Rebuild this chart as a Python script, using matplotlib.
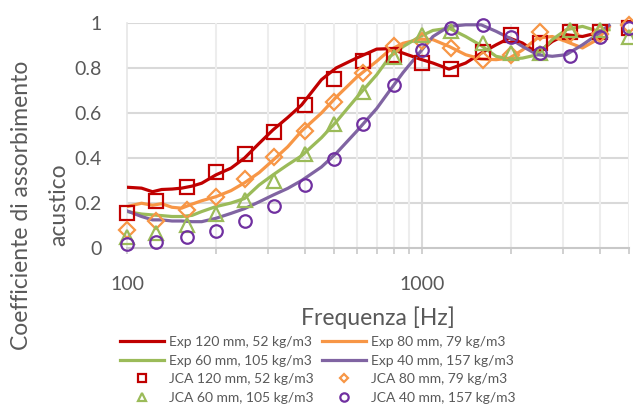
import matplotlib
matplotlib.use("Agg")
import matplotlib.pyplot as plt
from matplotlib.lines import Line2D
from matplotlib.ticker import FixedLocator, NullFormatter, FixedFormatter

plt.rcParams['font.family'] = ['Lato', 'DejaVu Sans']

# --- data ---
jca_freq = [100, 125, 160, 200, 250, 315, 400, 500, 630, 800, 1000, 1250, 1600, 2000, 2500, 3150, 4000, 5000]
jca_120 = [0.157, 0.209, 0.27, 0.338, 0.418, 0.514, 0.634, 0.75, 0.831, 0.86, 0.824, 0.794, 0.872, 0.947, 0.913, 0.961, 0.96, 0.976]
jca_80 = [0.08, 0.12, 0.17, 0.228, 0.307, 0.404, 0.522, 0.651, 0.78, 0.90, 0.92, 0.89, 0.837, 0.86, 0.96, 0.95, 0.95, 0.99]
jca_60 = [0.047, 0.067, 0.10, 0.15, 0.215, 0.30, 0.42, 0.55, 0.695, 0.85, 0.948, 0.963, 0.91, 0.866, 0.866, 0.97, 0.97, 0.94]
jca_40 = [0.018, 0.028, 0.049, 0.077, 0.119, 0.187, 0.28, 0.397, 0.55, 0.724, 0.878, 0.978, 0.992, 0.937, 0.866, 0.854, 0.94, 0.98]

exp_freq = [100, 112, 122, 131, 142, 153, 166, 179, 200, 225, 250, 280, 312, 350, 390, 455, 510, 600, 700, 775,
            860, 980, 1085, 1230, 1400, 1580, 1775, 1970, 2180, 2450, 2750, 3060, 3480, 3900, 4280]
exp_120 = [0.27, 0.266, 0.25, 0.26, 0.262, 0.266, 0.275, 0.288, 0.325, 0.355, 0.40, 0.465, 0.525, 0.58, 0.636, 0.748, 0.80, 0.845, 0.884, 0.886,
           0.866, 0.84, 0.822, 0.795, 0.822, 0.866, 0.903, 0.933, 0.911, 0.866, 0.918, 0.948, 0.94, 0.956, 0.985]
exp_80 = [0.184, 0.199, 0.19, 0.197, 0.181, 0.177, 0.195, 0.21, 0.228, 0.255, 0.29, 0.335, 0.39, 0.45, 0.52, 0.60, 0.67, 0.76, 0.83, 0.88,
          0.91, 0.928, 0.926, 0.896, 0.859, 0.84, 0.837, 0.844, 0.88, 0.933, 0.94, 0.918, 0.889, 0.926, 0.985]
exp_60 = [0.162, 0.151, 0.147, 0.144, 0.14, 0.14, 0.145, 0.162, 0.184, 0.2, 0.22, 0.28, 0.325, 0.37, 0.41, 0.49, 0.56, 0.67, 0.77, 0.85,
          0.895, 0.94, 0.967, 0.977, 0.94, 0.90, 0.852, 0.84, 0.844, 0.859, 0.926, 0.97, 0.985, 0.965, 0.97]
exp_40 = [0.165, 0.14, 0.125, 0.125, 0.12, 0.12, 0.117, 0.117, 0.132, 0.154, 0.175, 0.205, 0.235, 0.265, 0.30, 0.36, 0.42, 0.52, 0.62, 0.70,
          0.78, 0.87, 0.94, 0.985, 0.992, 0.992, 0.963, 0.933, 0.896, 0.859, 0.852, 0.859, 0.903, 0.948, 0.99]

exp_labels = ["Exp 120 mm, 52 kg/m3", "Exp 80 mm, 79 kg/m3", "Exp 60 mm, 105 kg/m3", "Exp 40 mm, 157 kg/m3"]
jca_labels = ["JCA 120 mm, 52 kg/m3", "JCA 80 mm, 79 kg/m3", "JCA 60 mm, 105 kg/m3", "JCA 40 mm, 157 kg/m3"]
x_ticks = [100, 1000]
x_ticklabels = ["100", "1000"]
y_ticks = [0, 0.2, 0.4, 0.6, 0.8, 1.0]
y_ticklabels = ["0", "0.2", "0.4", "0.6", "0.8", "1"]

line_colors = ["#C00000", "#F79646", "#9BBB59", "#8064A2"]
marker_colors = ["#C00000", "#F79646", "#9BBB59", "#7030A0"]
markers = ["s", "D", "^", "o"]
msizes = [9.5, 8.5, 10.5, 9.0]
leg_msizes = [6, 4.5, 5.5, 6]

W, H = 633, 412
fig = plt.figure(figsize=(W / 100, H / 100), dpi=100)
ax = fig.add_axes([127 / W, 1 - 248 / H, (629 - 127) / W, (248 - 23) / H])

TXT = "#595959"

# grid
for yv in y_ticks[1:]:
    ax.axhline(yv, color="#D9D9D9", lw=1.5, zorder=0)
minor_pos = [200, 300, 400, 500, 600, 700, 800, 900, 2000, 3000, 4000, 5000]
for xv in minor_pos:
    ax.axvline(xv, color="#EDEDED", lw=1.5, zorder=0)
ax.axvline(1000, color="#D9D9D9", lw=1.5, zorder=0)

exp_series = [exp_120, exp_80, exp_60, exp_40]
jca_series = [jca_120, jca_80, jca_60, jca_40]
for vals, c in zip(exp_series, line_colors):
    ax.plot(exp_freq, vals, color=c, lw=2.3, zorder=3, solid_joinstyle="round")
for vals, c, m, ms in zip(jca_series, marker_colors, markers, msizes):
    ax.plot(jca_freq, vals, ls="none", marker=m, ms=ms, mfc="none", mec=c, mew=1.6, zorder=4, clip_on=False)

ax.set_xscale("log")
ax.set_xlim(100, 5000)
ax.set_ylim(0, 1)
ax.xaxis.set_major_locator(FixedLocator(x_ticks))
ax.xaxis.set_major_formatter(FixedFormatter(x_ticklabels))
ax.xaxis.set_minor_locator(FixedLocator(minor_pos))
ax.xaxis.set_minor_formatter(NullFormatter())
ax.set_yticks(y_ticks)
ax.set_yticklabels(y_ticklabels)

for s in ["top", "right"]:
    ax.spines[s].set_visible(False)
ax.spines["left"].set_color("#E6E6E6")
ax.spines["left"].set_linewidth(1.2)
ax.spines["bottom"].set_color("#C8C8C8")
ax.spines["bottom"].set_linewidth(1.5)
ax.tick_params(axis="x", which="both", direction="out", length=4, width=1.2, color="#C8C8C8",
               labelsize=14, labelcolor=TXT, pad=16)
ax.tick_params(axis="y", length=0, labelsize=14, labelcolor=TXT, pad=18)

ax.set_xlabel("Frequenza [Hz]", fontsize=16.5, color=TXT, labelpad=10)
fig.text(22 / W, 1 - 205 / H, "Coefficiente di assorbimento", rotation=90, ha="center", va="center",
         fontsize=16.5, color=TXT)
fig.text(59 / W, 1 - 205 / H, "acustico", rotation=90, ha="center", va="center", fontsize=16.5, color=TXT)

# legend
eh = [Line2D([0], [0], color=c, lw=2.3) for c in line_colors]
jh = [Line2D([0], [0], ls="none", marker=m, ms=s, mfc="none", mec=c, mew=1.6)
      for m, c, s in zip(markers, marker_colors, leg_msizes)]
handles = [eh[0], eh[2], jh[0], jh[2], eh[1], eh[3], jh[1], jh[3]]
labels = [exp_labels[0], exp_labels[2], jca_labels[0], jca_labels[2],
          exp_labels[1], exp_labels[3], jca_labels[1], jca_labels[3]]
leg = fig.legend(handles, labels, ncol=2, loc="upper left", bbox_to_anchor=(120 / W, 1 - 336 / H),
                 frameon=False, fontsize=10, handlelength=3.2, handletextpad=0.35,
                 columnspacing=0.55, labelspacing=0.47, borderpad=0, borderaxespad=0)
for t in leg.get_texts():
    t.set_color(TXT)

fig.savefig("out.png", dpi=100)
